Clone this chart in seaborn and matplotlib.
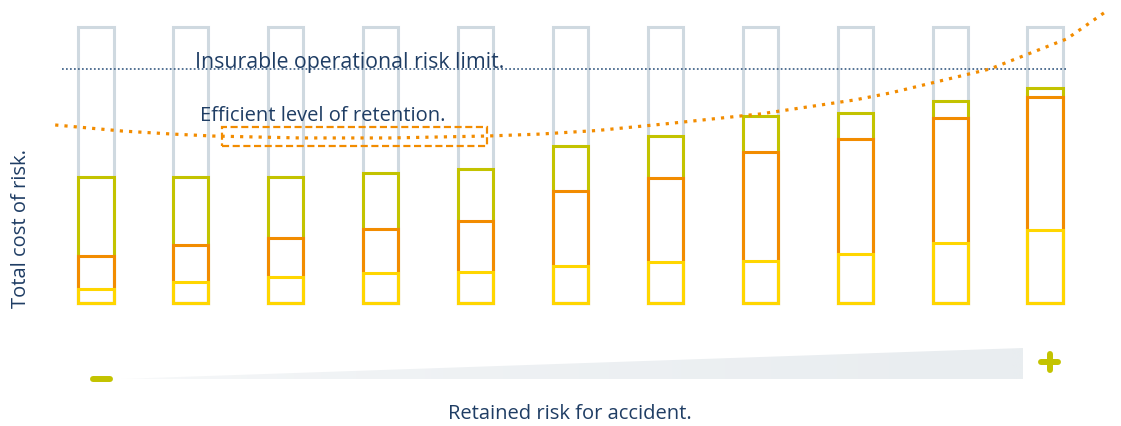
import numpy as np
import pandas as pd
import matplotlib
matplotlib.use("Agg")
import matplotlib.pyplot as plt
from matplotlib.patches import Rectangle, Polygon
from matplotlib.colors import LinearSegmentedColormap
import seaborn as sns

# Retention levels, from lowest (left) to highest (right)
levels = [str(i) for i in range(1, 12)]

# Stacked cost components per retention level (% of insurable capacity)
retained_losses = [5.1, 7.6, 9.4, 10.9, 11.2, 13.4, 14.9, 15.2, 17.8, 21.7, 26.4]
risk_financing = [12.0, 13.4, 14.1, 15.9, 18.5, 27.2, 30.4, 39.5, 41.7, 45.3, 48.2]
insurance_premium = [28.6, 24.6, 22.1, 20.3, 18.8, 16.3, 15.2, 13.0, 9.4, 6.2, 3.3]
capacity = [100] * 11

# Insurable operational risk limit (same scale)
risk_limit = 84.8

# Total cost of risk curve, sampled along the retention axis
curve_x = [-0.43, 0.28, 0.81, 1.23, 2.15, 3.10, 4.12, 4.68, 5.28, 6.0, 7.0, 8.0, 8.37, 9.42, 10.23, 10.65]
curve_y = [64.5, 62.3, 61.2, 60.5, 59.8, 59.8, 60.5, 61.2, 62.5, 64.9, 68.5, 73.6, 76.1, 84.8, 95.7, 105.8]

# Efficient retention band (retention axis range, cost range)
efficient_x = (1.33, 4.12)
efficient_y = (56.9, 63.8)

GREY = "#cfd9e0"
GREEN = "#c3c300"
ORANGE = "#f28c00"
YELLOW = "#ffd600"
NAVY = "#1f3d64"
LIMIT = "#3f6187"

sns.set_theme(style="white")
plt.rcParams["font.family"] = ["Open Sans", "DejaVu Sans"]

fig = plt.figure(figsize=(11.21, 4.27), dpi=100)
ax = fig.add_axes([0, 0, 1, 1])

df = pd.DataFrame({
    "level": levels,
    "capacity": capacity,
    "retained": retained_losses,
    "financing": risk_financing,
    "premium": insurance_premium,
})
df["top_yellow"] = df["retained"]
df["top_orange"] = df["top_yellow"] + df["financing"]
df["top_green"] = df["top_orange"] + df["premium"]

layers = [("capacity", GREY), ("top_green", GREEN), ("top_orange", ORANGE), ("top_yellow", YELLOW)]
for col, colour in layers:
    sns.barplot(data=df, x="level", y=col, ax=ax, fill=False, color=colour,
                saturation=1, width=0.37, errorbar=None, linewidth=2.2)

# Risk limit
ax.hlines(risk_limit, -0.36, 10.24, colors=LIMIT, linewidth=1.25, linestyles=(0, (1, 1.3)))

# Total cost of risk
sns.lineplot(x=curve_x, y=curve_y, ax=ax, sort=False, color=ORANGE, linewidth=2.3,
             linestyle=(0, (1, 1.9)), dash_capstyle="butt")

# Efficient retention band
ax.add_patch(Rectangle((efficient_x[0], efficient_y[0]), efficient_x[1] - efficient_x[0],
                       efficient_y[1] - efficient_y[0], fill=False, edgecolor=ORANGE,
                       linewidth=1.6, linestyle=(0, (3.2, 1.6))))

ax.set_xlim(-96 / 94.9, (1121 - 96) / 94.9)
ax.set_ylim((304 - 427) / 2.76, 304 / 2.76)
ax.set_axis_off()

# Annotation layer in pixel units
deco = fig.add_axes([0, 0, 1, 1], zorder=3)
deco.set_xlim(0, 1121)
deco.set_ylim(427, 0)
deco.set_axis_off()
deco.patch.set_alpha(0)

deco.text(195, 68, "Insurable operational risk limit.", color=NAVY, fontsize=15.3,
          ha="left", va="baseline", fontweight="medium")
deco.text(200, 121, "Efficient level of retention.", color=NAVY, fontsize=14.5,
          ha="left", va="baseline")
deco.text(570, 419, "Retained risk for accident.", color=NAVY, fontsize=14.5,
          ha="center", va="baseline")
deco.text(31, 229, "Total cost of risk.", color=NAVY, fontsize=14.5, rotation=90,
          ha="right", va="center")

# Increasing retention wedge
wedge = Polygon([(120, 380), (1023, 349), (1023, 380)], closed=True,
                facecolor="none", edgecolor="none")
deco.add_patch(wedge)
cmap = LinearSegmentedColormap.from_list("fade", ["#ffffff", "#e9edf0"])
grad = np.linspace(0, 1, 600) ** 0.3
img = deco.imshow(grad[np.newaxis, :], cmap=cmap, aspect="auto",
                  extent=[120, 1023, 380, 349], interpolation="bilinear")
img.set_clip_path(wedge)
deco.set_xlim(0, 1121)
deco.set_ylim(427, 0)

# Minus and plus markers
deco.plot([93, 110], [379.7, 379.7], color=GREEN, linewidth=4.3, solid_capstyle="round")
deco.plot([1041, 1058], [363, 363], color=GREEN, linewidth=4.3, solid_capstyle="round")
deco.plot([1049.5, 1049.5], [355, 371], color=GREEN, linewidth=4.3, solid_capstyle="round")

fig.savefig("out.png", dpi=100)
